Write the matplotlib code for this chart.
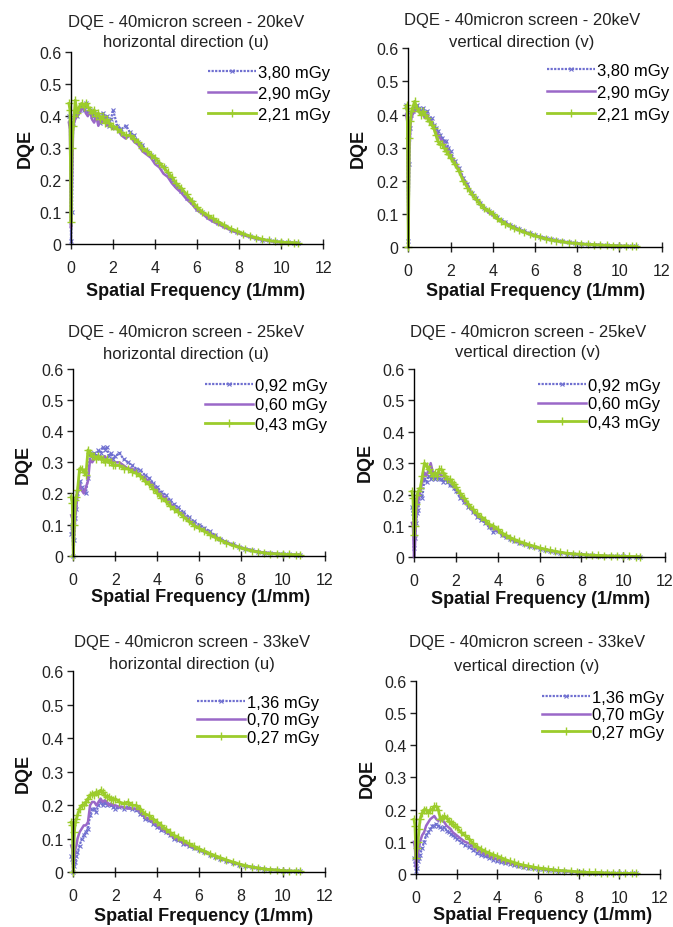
import matplotlib
matplotlib.use("Agg")
import matplotlib.pyplot as plt

plt.rcParams['font.family'] = ['Liberation Sans', 'DejaVu Sans']

FREQ = [-0.1, -0.05, 0.0, 0.05, 0.1, 0.15, 0.2, 0.3, 0.4, 0.5, 0.6, 0.7, 0.8, 0.9, 1.0,
        1.1, 1.2, 1.3, 1.4, 1.5, 1.6, 1.7, 1.8, 1.9, 2.0, 2.2, 2.4, 2.6, 2.8, 3.0,
        3.2, 3.4, 3.6, 3.8, 4.0, 4.2, 4.4, 4.6, 4.8, 5.0, 5.25, 5.5, 5.75, 6.0, 6.25,
        6.5, 6.75, 7.0, 7.3, 7.6, 7.9, 8.2, 8.5, 8.8, 9.1, 9.4, 9.7, 10.0, 10.3, 10.6, 10.8]

X_TICKS = [0, 2, 4, 6, 8, 10, 12]
Y_TICKS = [0, 0.1, 0.2, 0.3, 0.4, 0.5, 0.6]
Y_TICK_LABELS = ['0', '0.1', '0.2', '0.3', '0.4', '0.5', '0.6']

TITLES_1 = ['DQE - 40micron screen - 20keV', 'DQE - 40micron screen - 20keV',
            'DQE - 40micron screen - 25keV', 'DQE - 40micron screen - 25keV',
            'DQE - 40micron screen - 33keV', 'DQE - 40micron screen - 33keV']
TITLES_2 = ['horizontal direction (u)', 'vertical direction (v)',
            'horizontal direction (u)', 'vertical direction (v)',
            'horizontal direction (u)', 'vertical direction (v)']
LABELS = [['3,80 mGy', '2,90 mGy', '2,21 mGy'],
          ['3,80 mGy', '2,90 mGy', '2,21 mGy'],
          ['0,92 mGy', '0,60 mGy', '0,43 mGy'],
          ['0,92 mGy', '0,60 mGy', '0,43 mGy'],
          ['1,36 mGy', '0,70 mGy', '0,27 mGy'],
          ['1,36 mGy', '0,70 mGy', '0,27 mGy']]

# 20 keV, horizontal
KEV20_U_S1 = [0.40, 0.38, 0.01, 0.10, 0.38, 0.40, 0.41, 0.40, 0.42, 0.43, 0.42, 0.44, 0.41, 0.42, 0.40,
              0.41, 0.39, 0.40, 0.38, 0.41, 0.39, 0.40, 0.37, 0.39, 0.42, 0.37, 0.36, 0.37, 0.35, 0.34,
              0.32, 0.31, 0.29, 0.28, 0.265, 0.25, 0.24, 0.22, 0.20, 0.185, 0.165, 0.145, 0.13, 0.11, 0.10,
              0.085, 0.075, 0.065, 0.055, 0.045, 0.037, 0.03, 0.024, 0.018, 0.014, 0.011, 0.008, 0.006, 0.005, 0.004, 0.003]
KEV20_U_S2 = [0.38, 0.36, 0.05, 0.20, 0.36, 0.38, 0.39, 0.40, 0.41, 0.42, 0.43, 0.41, 0.40, 0.42, 0.39,
              0.38, 0.40, 0.37, 0.39, 0.38, 0.40, 0.37, 0.38, 0.37, 0.36, 0.36, 0.34, 0.33, 0.34, 0.32,
              0.31, 0.29, 0.28, 0.27, 0.25, 0.24, 0.22, 0.21, 0.19, 0.175, 0.16, 0.14, 0.125, 0.105, 0.095,
              0.08, 0.07, 0.062, 0.052, 0.043, 0.035, 0.028, 0.022, 0.017, 0.013, 0.01, 0.007, 0.005, 0.004, 0.003, 0.003]
KEV20_U_S3 = [0.44, 0.42, 0.07, 0.30, 0.37, 0.40, 0.45, 0.41, 0.43, 0.44, 0.43, 0.44, 0.43, 0.42, 0.41,
              0.42, 0.40, 0.41, 0.39, 0.40, 0.38, 0.39, 0.38, 0.37, 0.37, 0.36, 0.35, 0.34, 0.34, 0.33,
              0.32, 0.30, 0.29, 0.28, 0.27, 0.255, 0.24, 0.225, 0.21, 0.19, 0.175, 0.155, 0.135, 0.115, 0.10,
              0.09, 0.08, 0.07, 0.058, 0.048, 0.04, 0.032, 0.025, 0.02, 0.015, 0.011, 0.008, 0.006, 0.005, 0.004, 0.003]

# 20 keV, vertical
KEV20_V_S1 = [0.43, 0.41, 0.02, 0.25, 0.36, 0.40, 0.41, 0.42, 0.43, 0.42, 0.41, 0.42, 0.40, 0.41, 0.39,
              0.39, 0.37, 0.36, 0.35, 0.34, 0.33, 0.32, 0.32, 0.30, 0.29, 0.26, 0.24, 0.21, 0.19, 0.165,
              0.15, 0.135, 0.12, 0.11, 0.10, 0.09, 0.082, 0.075, 0.068, 0.062, 0.055, 0.048, 0.042, 0.036, 0.032,
              0.028, 0.024, 0.021, 0.018, 0.015, 0.013, 0.011, 0.009, 0.008, 0.007, 0.006, 0.005, 0.005, 0.004, 0.004, 0.003]
KEV20_V_S2 = [0.40, 0.38, 0.05, 0.28, 0.37, 0.39, 0.40, 0.41, 0.42, 0.41, 0.40, 0.40, 0.39, 0.40, 0.38,
              0.38, 0.36, 0.35, 0.34, 0.33, 0.32, 0.31, 0.30, 0.29, 0.28, 0.255, 0.235, 0.205, 0.185, 0.16,
              0.145, 0.13, 0.118, 0.105, 0.097, 0.088, 0.08, 0.073, 0.066, 0.06, 0.053, 0.046, 0.04, 0.035, 0.031,
              0.027, 0.023, 0.02, 0.017, 0.014, 0.012, 0.01, 0.009, 0.008, 0.007, 0.006, 0.005, 0.004, 0.004, 0.003, 0.003]
KEV20_V_S3 = [0.42, 0.43, 0.0, 0.33, 0.38, 0.41, 0.42, 0.44, 0.42, 0.41, 0.40, 0.41, 0.40, 0.39, 0.38,
              0.37, 0.36, 0.34, 0.32, 0.31, 0.31, 0.30, 0.29, 0.28, 0.27, 0.25, 0.23, 0.20, 0.18, 0.16,
              0.145, 0.13, 0.117, 0.11, 0.10, 0.087, 0.078, 0.071, 0.065, 0.058, 0.052, 0.045, 0.04, 0.035, 0.03,
              0.026, 0.022, 0.02, 0.017, 0.014, 0.012, 0.01, 0.009, 0.008, 0.007, 0.006, 0.005, 0.004, 0.004, 0.003, 0.003]

# 25 keV, horizontal
KEV25_U_S1 = [0.07, 0.10, 0.0, 0.05, 0.12, 0.15, 0.20, 0.24, 0.22, 0.21, 0.20, 0.25, 0.33, 0.32, 0.33,
              0.32, 0.34, 0.33, 0.35, 0.34, 0.35, 0.32, 0.33, 0.31, 0.32, 0.33, 0.31, 0.30, 0.29, 0.28,
              0.275, 0.26, 0.25, 0.235, 0.22, 0.205, 0.195, 0.18, 0.165, 0.155, 0.14, 0.125, 0.11, 0.10, 0.09,
              0.078, 0.066, 0.055, 0.045, 0.036, 0.029, 0.023, 0.018, 0.013, 0.01, 0.008, 0.006, 0.005, 0.004, 0.003, 0.003]
KEV25_U_S2 = [0.13, 0.12, 0.03, 0.08, 0.13, 0.16, 0.20, 0.23, 0.21, 0.20, 0.22, 0.24, 0.31, 0.30, 0.31,
              0.32, 0.31, 0.32, 0.31, 0.32, 0.31, 0.30, 0.31, 0.30, 0.30, 0.30, 0.29, 0.28, 0.28, 0.27,
              0.26, 0.25, 0.24, 0.225, 0.21, 0.195, 0.185, 0.17, 0.155, 0.145, 0.13, 0.115, 0.10, 0.09, 0.082,
              0.072, 0.062, 0.052, 0.043, 0.035, 0.028, 0.022, 0.017, 0.013, 0.01, 0.008, 0.006, 0.005, 0.004, 0.003, 0.003]
KEV25_U_S3 = [0.19, 0.17, 0.0, 0.10, 0.18, 0.19, 0.21, 0.28, 0.28, 0.27, 0.26, 0.34, 0.33, 0.32, 0.32,
              0.31, 0.32, 0.31, 0.31, 0.30, 0.31, 0.30, 0.30, 0.29, 0.29, 0.29, 0.28, 0.28, 0.27, 0.265,
              0.255, 0.24, 0.23, 0.215, 0.20, 0.185, 0.175, 0.16, 0.15, 0.14, 0.125, 0.11, 0.097, 0.088, 0.078,
              0.068, 0.059, 0.05, 0.041, 0.033, 0.027, 0.021, 0.016, 0.012, 0.009, 0.007, 0.006, 0.005, 0.004, 0.003, 0.003]

# 25 keV, vertical
KEV25_V_S1 = [0.16, 0.14, 0.03, 0.06, 0.11, 0.14, 0.15, 0.20, 0.19, 0.25, 0.24, 0.26, 0.25, 0.26, 0.25,
              0.26, 0.25, 0.25, 0.24, 0.25, 0.24, 0.23, 0.23, 0.22, 0.21, 0.19, 0.175, 0.16, 0.145, 0.13,
              0.12, 0.11, 0.095, 0.08, 0.085, 0.07, 0.064, 0.058, 0.052, 0.047, 0.042, 0.037, 0.032, 0.028, 0.024,
              0.02, 0.017, 0.015, 0.012, 0.01, 0.008, 0.007, 0.006, 0.005, 0.004, 0.004, 0.003, 0.003, 0.002, 0.002, 0.002]
KEV25_V_S2 = [0.11, 0.10, 0.0, 0.04, 0.12, 0.16, 0.18, 0.21, 0.24, 0.27, 0.26, 0.28, 0.30, 0.27, 0.27,
              0.26, 0.27, 0.26, 0.26, 0.25, 0.25, 0.24, 0.24, 0.23, 0.22, 0.20, 0.18, 0.165, 0.15, 0.135,
              0.125, 0.115, 0.10, 0.09, 0.085, 0.073, 0.066, 0.06, 0.054, 0.048, 0.043, 0.038, 0.033, 0.029, 0.025,
              0.021, 0.018, 0.015, 0.012, 0.01, 0.009, 0.008, 0.006, 0.005, 0.004, 0.004, 0.003, 0.003, 0.002, 0.002, 0.002]
KEV25_V_S3 = [0.21, 0.19, 0.07, 0.10, 0.17, 0.20, 0.21, 0.22, 0.26, 0.30, 0.29, 0.28, 0.27, 0.26, 0.27,
              0.26, 0.28, 0.28, 0.27, 0.26, 0.25, 0.25, 0.24, 0.235, 0.225, 0.205, 0.19, 0.17, 0.155, 0.14,
              0.13, 0.12, 0.105, 0.10, 0.09, 0.078, 0.07, 0.063, 0.057, 0.051, 0.045, 0.04, 0.035, 0.03, 0.026,
              0.022, 0.019, 0.016, 0.013, 0.011, 0.01, 0.008, 0.007, 0.006, 0.005, 0.004, 0.004, 0.003, 0.003, 0.002, 0.002]

# 33 keV, horizontal
KEV33_U_S1 = [0.05, 0.04, 0.0, 0.02, 0.03, 0.05, 0.06, 0.08, 0.10, 0.11, 0.12, 0.13, 0.17, 0.19, 0.19,
              0.18, 0.20, 0.21, 0.20, 0.21, 0.20, 0.205, 0.20, 0.195, 0.19, 0.195, 0.19, 0.195, 0.19, 0.185,
              0.175, 0.16, 0.155, 0.145, 0.135, 0.125, 0.12, 0.11, 0.10, 0.095, 0.085, 0.078, 0.072, 0.066, 0.06,
              0.053, 0.047, 0.041, 0.034, 0.028, 0.023, 0.019, 0.015, 0.012, 0.01, 0.008, 0.006, 0.005, 0.004, 0.003, 0.003]
KEV33_U_S2 = [0.08, 0.07, 0.0, 0.04, 0.07, 0.08, 0.10, 0.12, 0.13, 0.14, 0.14, 0.15, 0.20, 0.21, 0.21,
              0.20, 0.21, 0.22, 0.21, 0.215, 0.21, 0.20, 0.205, 0.20, 0.20, 0.195, 0.195, 0.19, 0.19, 0.19,
              0.18, 0.165, 0.16, 0.15, 0.14, 0.13, 0.123, 0.113, 0.104, 0.097, 0.088, 0.08, 0.074, 0.068, 0.061,
              0.054, 0.048, 0.042, 0.035, 0.029, 0.024, 0.019, 0.015, 0.012, 0.01, 0.008, 0.006, 0.005, 0.004, 0.003, 0.003]
KEV33_U_S3 = [0.15, 0.14, 0.0, 0.12, 0.15, 0.16, 0.17, 0.19, 0.20, 0.20, 0.21, 0.22, 0.23, 0.235, 0.23,
              0.24, 0.235, 0.245, 0.24, 0.23, 0.225, 0.225, 0.22, 0.215, 0.22, 0.21, 0.205, 0.21, 0.20, 0.20,
              0.19, 0.175, 0.17, 0.16, 0.15, 0.14, 0.13, 0.12, 0.11, 0.105, 0.095, 0.086, 0.078, 0.07, 0.063,
              0.056, 0.05, 0.044, 0.037, 0.031, 0.025, 0.02, 0.016, 0.013, 0.01, 0.008, 0.007, 0.005, 0.004, 0.004, 0.003]

# 33 keV, vertical
KEV33_V_S1 = [0.05, 0.03, 0.01, 0.02, 0.04, 0.05, 0.06, 0.08, 0.10, 0.12, 0.13, 0.14, 0.15, 0.15, 0.155,
              0.15, 0.145, 0.14, 0.145, 0.135, 0.13, 0.125, 0.12, 0.115, 0.11, 0.10, 0.09, 0.085, 0.075, 0.065,
              0.06, 0.055, 0.05, 0.045, 0.04, 0.037, 0.034, 0.031, 0.028, 0.026, 0.023, 0.02, 0.018, 0.016, 0.014,
              0.012, 0.011, 0.01, 0.008, 0.007, 0.006, 0.005, 0.004, 0.004, 0.003, 0.003, 0.002, 0.002, 0.002, 0.002, 0.002]
KEV33_V_S2 = [0.10, 0.08, 0.02, 0.04, 0.06, 0.08, 0.10, 0.12, 0.13, 0.15, 0.16, 0.17, 0.175, 0.18, 0.17,
              0.165, 0.17, 0.165, 0.16, 0.15, 0.145, 0.14, 0.13, 0.125, 0.12, 0.11, 0.10, 0.095, 0.085, 0.075,
              0.068, 0.062, 0.056, 0.05, 0.046, 0.042, 0.038, 0.034, 0.031, 0.028, 0.025, 0.022, 0.02, 0.017, 0.015,
              0.013, 0.012, 0.01, 0.009, 0.008, 0.006, 0.005, 0.005, 0.004, 0.003, 0.003, 0.002, 0.002, 0.002, 0.002, 0.002]
KEV33_V_S3 = [0.17, 0.15, 0.05, 0.08, 0.10, 0.14, 0.17, 0.19, 0.20, 0.20, 0.19, 0.20, 0.20, 0.21, 0.21,
              0.20, 0.17, 0.175, 0.18, 0.175, 0.165, 0.16, 0.155, 0.15, 0.145, 0.13, 0.12, 0.11, 0.095, 0.085,
              0.077, 0.07, 0.065, 0.06, 0.055, 0.05, 0.045, 0.04, 0.036, 0.032, 0.028, 0.025, 0.022, 0.019, 0.017,
              0.015, 0.013, 0.011, 0.01, 0.009, 0.007, 0.006, 0.005, 0.005, 0.004, 0.003, 0.003, 0.002, 0.002, 0.002, 0.002]

PANEL_SERIES = [
    [KEV20_U_S1, KEV20_U_S2, KEV20_U_S3],
    [KEV20_V_S1, KEV20_V_S2, KEV20_V_S3],
    [KEV25_U_S1, KEV25_U_S2, KEV25_U_S3],
    [KEV25_V_S1, KEV25_V_S2, KEV25_V_S3],
    [KEV33_U_S1, KEV33_U_S2, KEV33_U_S3],
    [KEV33_V_S1, KEV33_V_S2, KEV33_V_S3],
]

# ---------------- layout (pixels in a 673x928 canvas) ----------------
W, H = 673, 928
XMIN = -0.25
# (x of value 0, x of value 12, y of value 0, y of value 0.6)
AX_PX = [(71, 323.3, 245, 53.3), (408.3, 661.7, 248.3, 49.3),
         (73.3, 325, 556.7, 370), (414, 665, 558.3, 370),
         (73.3, 325, 873.3, 672.3), (416, 660, 875, 681.7)]
TITLE_PX = [(186, 22, 42), (522, 20, 43), (186, 332, 355),
            (528, 332, 353), (192, 643, 665), (527, 643, 667)]
YLAB_PX = [(25, 148), (358, 148), (23, 464), (365, 462), (23, 773), (367, 778)]
XLAB_PX = [(196, 291), (536, 292), (201, 598), (541, 600), (204, 917), (543, 916)]
LEG_PX = [(208, 75, 20), (547, 73, 21), (205, 388, 18.5), (538, 388, 17.5),
          (197, 705, 16.5), (542, 700, 16.5)]

COLORS = ['#6f6fd0', '#9a68c8', '#9ccc2c']
TXT_FS = 12
TICK_FS = 11.5
LAB_FS = 13
TXT_C = '#222222'

fig = plt.figure(figsize=(W / 100, H / 100), dpi=100)
for i in range(6):
    x0, x12, y0, y6 = AX_PX[i]
    unit = (x12 - x0) / 12.0
    left = x0 + XMIN * unit
    ax = fig.add_axes([left / W, (H - y0) / H, (x12 - left) / W, (y0 - y6) / H])
    s1, s2, s3 = PANEL_SERIES[i]
    labs = LABELS[i]
    ax.plot(FREQ, s1, color=COLORS[0], lw=1.6, ls=(0, (1, 0.6)), marker='x', ms=2.2, mew=0.8,
            label=labs[0], clip_on=False)
    ax.plot(FREQ, s2, color=COLORS[1], lw=1.8, label=labs[1], clip_on=False)
    ax.plot(FREQ, s3, color=COLORS[2], lw=2.0, marker='+', ms=6, mew=1.0, label=labs[2], clip_on=False)
    ax.set_xlim(XMIN, 12)
    ax.set_ylim(0, 0.6)
    for side in ['top', 'right']:
        ax.spines[side].set_visible(False)
    ax.spines['left'].set_position(('data', 0))
    ax.spines['bottom'].set_bounds(0, 12)
    ax.spines['left'].set_linewidth(1.0)
    ax.spines['bottom'].set_linewidth(1.0)
    ax.set_xticks(X_TICKS)
    ax.set_xticklabels([str(t) for t in X_TICKS])
    ax.set_yticks(Y_TICKS)
    ax.set_yticklabels(Y_TICK_LABELS)
    ax.tick_params(axis='x', direction='inout', length=7, width=1, pad=8, labelsize=TICK_FS, colors=TXT_C)
    ax.tick_params(axis='y', direction='out', length=4, width=1, pad=3, labelsize=TICK_FS, colors=TXT_C)
    ax.patch.set_alpha(0)

    lx, ly, lsp = LEG_PX[i]
    ax.legend(loc='upper left', bbox_to_anchor=(lx / W, 1 - (ly - 9) / H),
              bbox_transform=fig.transFigure, frameon=False, fontsize=TXT_FS,
              handlelength=2.9, handletextpad=0.1, borderpad=0, borderaxespad=0,
              labelspacing=(lsp - 14) / 16.7, numpoints=1)

    tx, t1, t2 = TITLE_PX[i]
    fig.text(tx / W, 1 - t1 / H, TITLES_1[i], ha='center', va='center', fontsize=TXT_FS, color=TXT_C)
    fig.text(tx / W, 1 - t2 / H, TITLES_2[i], ha='center', va='center', fontsize=TXT_FS, color=TXT_C)
    yx, yy = YLAB_PX[i]
    fig.text(yx / W, 1 - yy / H, 'DQE', ha='center', va='center', rotation=90,
             fontsize=LAB_FS, fontweight='bold', color='#111111')
    xx, xy = XLAB_PX[i]
    fig.text(xx / W, 1 - xy / H, 'Spatial Frequency (1/mm)', ha='center', va='center',
             fontsize=LAB_FS, fontweight='bold', color='#111111')

fig.savefig('out.png', dpi=100)
